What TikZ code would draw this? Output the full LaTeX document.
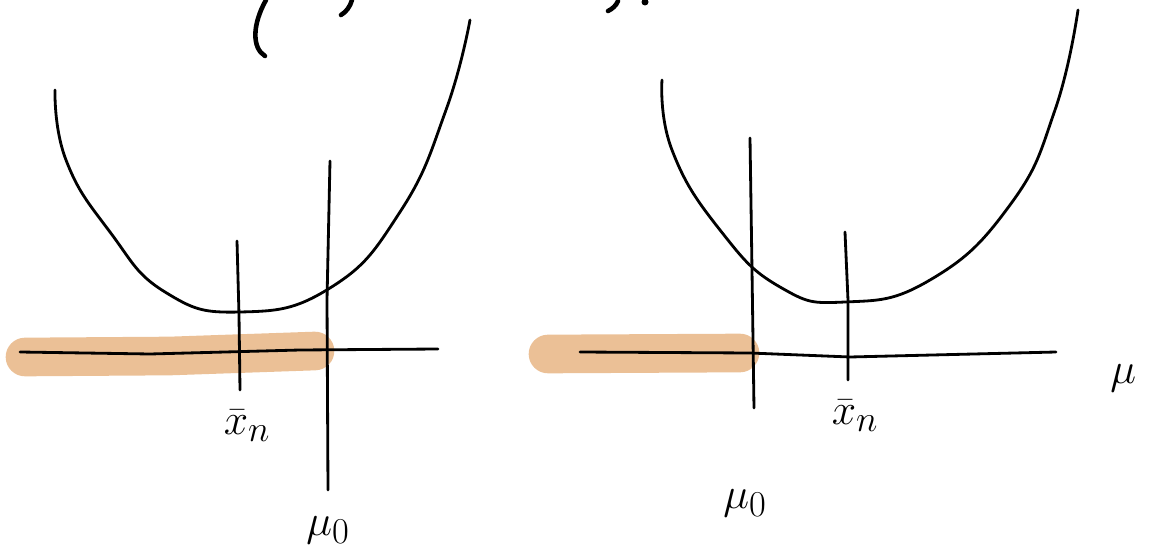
\documentclass[tikz,border=0pt]{standalone}
\usepackage{amsmath}
\usepackage{amsfonts, amssymb}
\usepackage{tikz}
\usetikzlibrary{positioning, calc}

\definecolor{bandorange}{RGB}{235,192,150}

\tikzset{
  pen/.style={black, line width=1.6pt, line cap=round, line join=round},
  inkbold/.style={black, line width=2.6pt, line cap=round},
  band/.style={bandorange, line width=22pt, line cap=round},
  lbl/.style={font=\Huge, inner sep=0pt}
}

\begin{document}
\begin{tikzpicture}[x=0.02cm, y=-0.02cm]

      \useasboundingbox (0,0) rectangle (1154,554);

      % --- Cropped strokes at the top edge ---
      \draw[inkbold] (266,0) .. controls (252,25) and (252,48) .. (265,56);
      \draw[inkbold] (352,0) .. controls (350,7) and (346,12) .. (341,15);
      \draw[inkbold] (618,1) .. controls (616,6) and (612,9) .. (608,11);
      \fill (645,2) circle (3.5);

      % --- Left panel ---
      \draw[band] (25,357) -- (170,356) -- (315,351);
      \draw[pen] (20,352) -- (150,354) -- (300,350) -- (438,349);
      \draw[pen] plot[smooth, tension=0.8] coordinates {
        (55,90) (66,160) (110,232) (165,292) (240,312)
        (330,288) (400,212) (446,110) (470,20)};
      \draw[pen] (237,241) -- (239,315) -- (240,390);
      \draw[pen] (330,161) -- (327,300) -- (328,490);
      \node[lbl] (xbarL) at (247,426) {$\bar{x}_n$};
      \node[lbl] (muzeroL) at (328,530) {$\mu_0$};

      % --- Right panel ---
      \draw[band] (548,354) -- (740,353);
      \draw[pen] (580,352) -- (750,353) -- (850,357) -- (1056,352);
      \draw[pen] plot[smooth, tension=0.8] coordinates {
        (662,80) (672,150) (720,230) (780,287) (845,302)
        (930,280) (1010,205) (1055,110) (1078,10)};
      \draw[pen] (750,138) -- (752,270) -- (754,408);
      \draw[pen] (845,232) -- (848,300) -- (848,380);
      \node[lbl] (xbarR) at (855,416) {$\bar{x}_n$};
      \node[lbl] (muzeroR) at (745,503) {$\mu_0$};
      \node[lbl, anchor=west] (muR) at (1110,378) {$\mu$};

\end{tikzpicture}
\end{document}
